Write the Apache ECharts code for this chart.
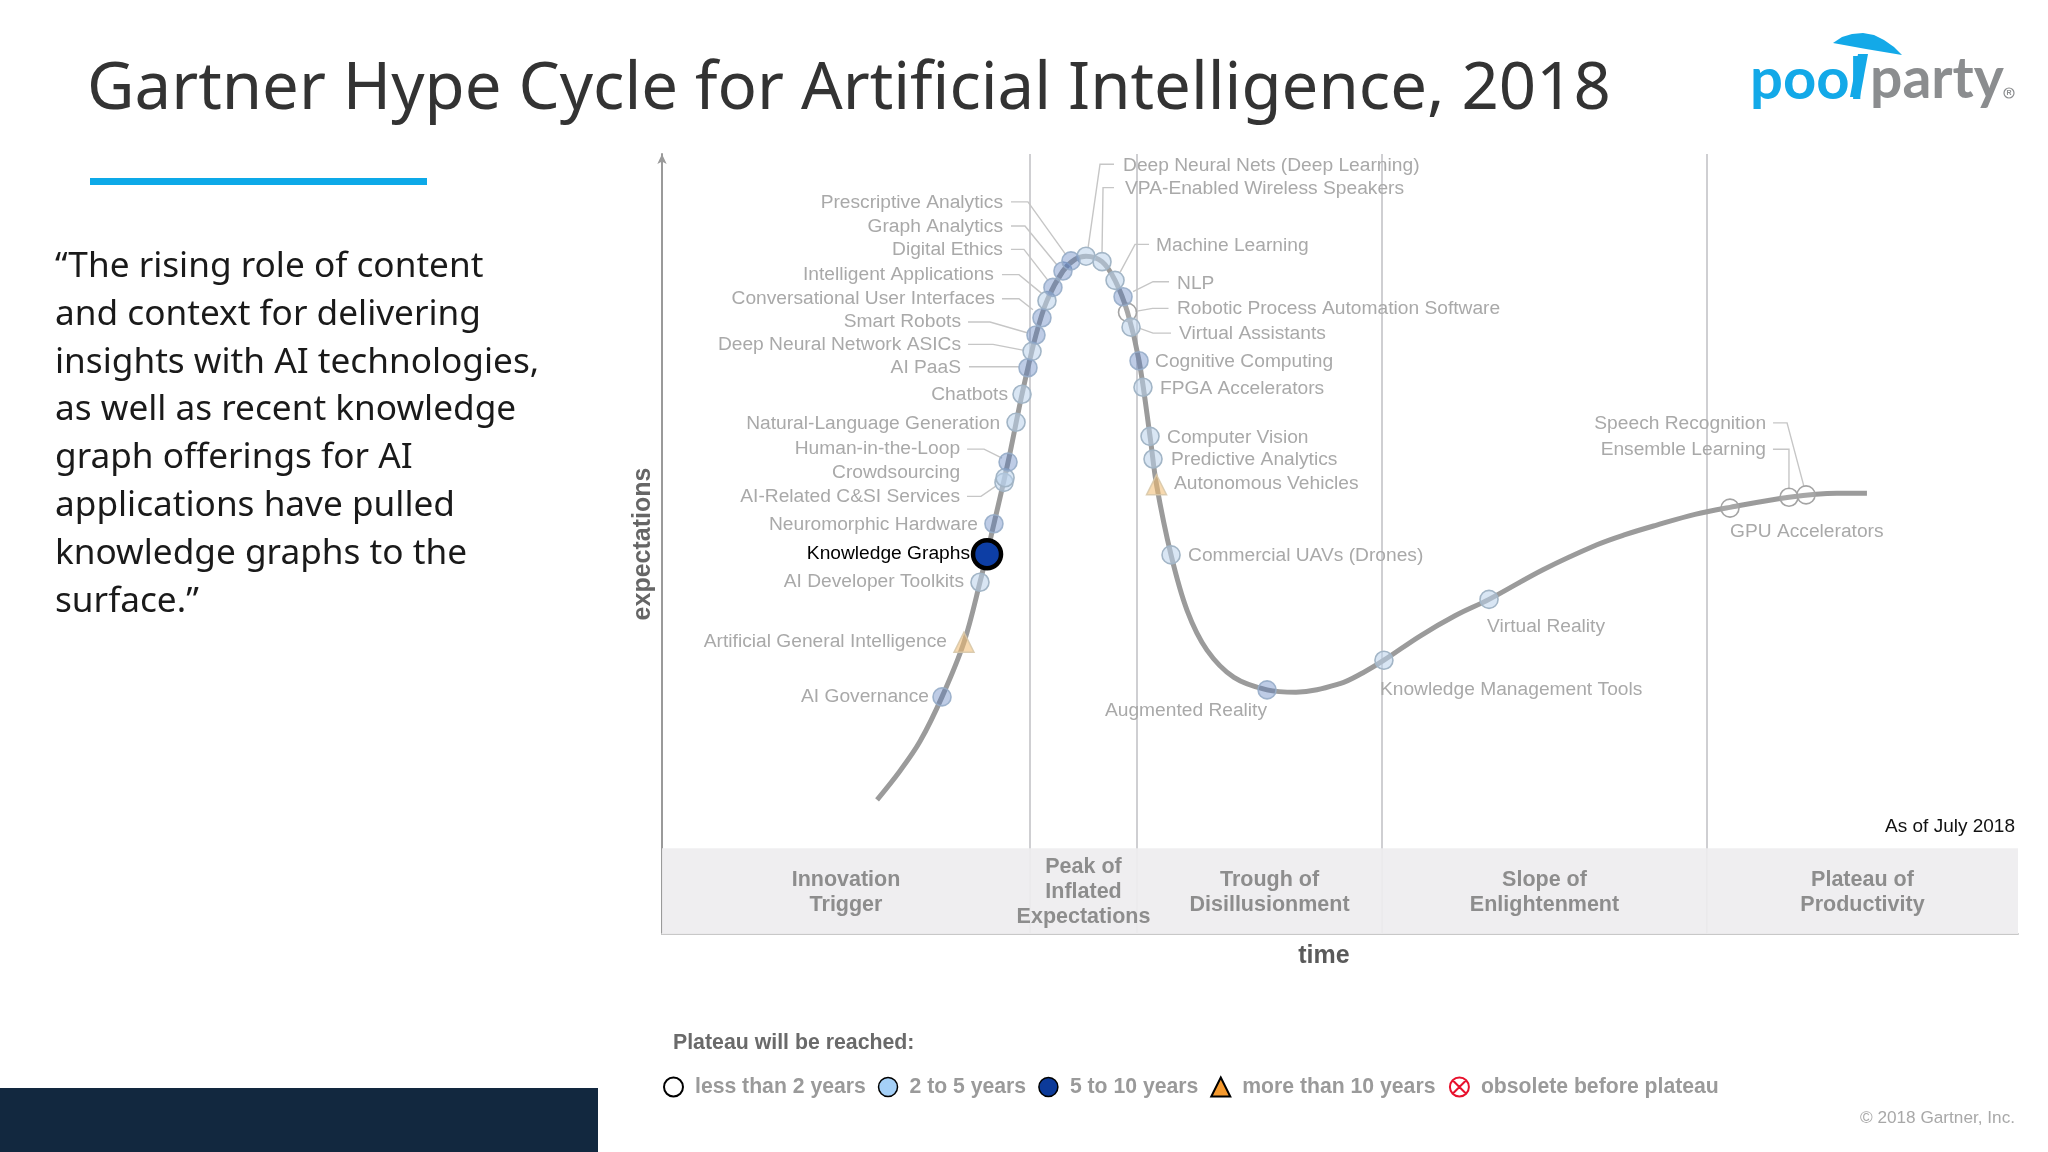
<!DOCTYPE html>
<html>
<head>
<meta charset="utf-8">
<title>Gartner Hype Cycle for Artificial Intelligence, 2018</title>
<script src="https://cdn.jsdelivr.net/npm/echarts@6/dist/echarts.min.js"></script>
<style>
    html, body { margin: 0; padding: 0; background: #fff; }
    #main { width: 2048px; height: 1152px; }
</style>
</head>
<body>
<div id="main"></div>
<script>
// hype curve, time and expectations (0-100 on both axes)
const curveTime = [15.86, 17.55, 19.03, 20.65, 22.27, 23.45, 24.48, 25.52, 26.55, 27.58, 28.39, 29.57, 30.46, 31.27, 32.45, 33.41, 34.33, 35.18, 35.99, 36.47, 37.54, 38.72, 40.19, 42.18, 44.62, 46.76, 50.0, 51.7, 53.24, 55.9, 58.48, 60.99, 64.97, 68.95, 71.02, 73.3, 76.18, 78.76, 83.11, 86.65, 88.86];
const curveExp = [17.2, 20.9, 24.7, 30.4, 37.4, 45.1, 52.6, 60.5, 69.2, 76.8, 81.2, 85.0, 86.5, 86.9, 86.2, 83.8, 79.7, 73.5, 63.8, 57.6, 48.6, 41.5, 36.4, 32.9, 31.3, 31.0, 32.1, 33.5, 35.1, 38.2, 40.8, 42.9, 46.7, 49.9, 51.2, 52.4, 53.8, 54.7, 56.0, 56.5, 56.5];

const techNames = ["AI Governance", "Artificial General Intelligence", "AI Developer Toolkits", "Knowledge Graphs", "Neuromorphic Hardware", "AI-Related C&SI Services", "Crowdsourcing", "Human-in-the-Loop", "Natural-Language Generation", "Chatbots", "AI PaaS", "Deep Neural Network ASICs", "Smart Robots", "Conversational User Interfaces", "Intelligent Applications", "Digital Ethics", "Graph Analytics", "Prescriptive Analytics", "Deep Neural Nets (Deep Learning)", "VPA-Enabled Wireless Speakers", "Machine Learning", "NLP", "Robotic Process Automation Software", "Virtual Assistants", "Cognitive Computing", "FPGA Accelerators", "Computer Vision", "Predictive Analytics", "Autonomous Vehicles", "Commercial UAVs (Drones)", "Augmented Reality", "Knowledge Management Tools", "Virtual Reality", "GPU Accelerators", "Ensemble Learning", "Speech Recognition"];
const techTime = [20.65, 22.27, 23.45, 23.97, 24.48, 25.22, 25.3, 25.52, 26.11, 26.55, 26.99, 27.29, 27.58, 28.02, 28.39, 28.83, 29.57, 30.16, 31.27, 32.45, 33.41, 34.0, 34.33, 34.59, 35.18, 35.47, 35.99, 36.21, 36.47, 37.54, 44.62, 53.24, 60.99, 78.76, 83.11, 84.37];
const techExp = [30.4, 37.4, 45.1, 48.7, 52.6, 57.9, 58.5, 60.5, 65.6, 69.2, 72.6, 74.7, 76.8, 79.0, 81.2, 82.9, 85.0, 86.3, 86.9, 86.2, 83.8, 81.7, 79.7, 77.8, 73.5, 70.1, 63.8, 60.9, 57.6, 48.6, 31.3, 35.1, 42.9, 54.6, 56.0, 56.3];
// index into plateauNames
const techPlateau = [2, 3, 1, 2, 2, 1, 1, 2, 1, 1, 2, 1, 2, 2, 1, 2, 2, 2, 1, 1, 1, 2, 0, 1, 2, 1, 1, 1, 3, 1, 2, 1, 1, 0, 0, 0];

const plateauNames = ["less than 2 years", "2 to 5 years", "5 to 10 years", "more than 10 years", "obsolete before plateau"];
const phaseNames = ["Innovation\nTrigger", "Peak of\nInflated\nExpectations", "Trough of\nDisillusionment", "Slope of\nEnlightenment", "Plateau of\nProductivity"];
const phaseEdges = [0, 27.14, 35.03, 53.1, 77.06, 100];
const bandTop = 11;

// label layout, pixels from the marker: [align, dx, dy, leader points]
const labelLayout = [
    ["right", -13, -1], ["right", -17, -2], ["right", -16, -2], ["right", -17, -1], ["right", -16, 0],
    ["right", -44, 13, [[-37, 14], [-23, 14], [-7, 3]]],
    ["right", -45, -6],
    ["right", -48, -14, [[-41, -13], [-24, -13], [-6, -4]]],
    ["right", -16, 0], ["right", -14, -1],
    ["right", -67, -1, [[-59, -1], [-9, -1]]],
    ["right", -71, -8, [[-64, -7], [-39, -7], [-8, -1]]],
    ["right", -75, -14, [[-68, -13], [-46, -13], [-8, -2]]],
    ["right", -47, -20, [[-40, -19], [-23, -19], [-9, -8]]],
    ["right", -53, -27, [[-45, -26], [-28, -26], [-5, -7]]],
    ["right", -50, -39, [[-42, -38], [-29, -38], [-5, -7]]],
    ["right", -60, -45, [[-52, -45], [-38, -45], [-6, -6]]],
    ["right", -68, -59, [[-60, -59], [-43, -59], [-5, -6]]],
    ["left", 37, -91, [[28, -92], [14, -92], [2, -8]]],
    ["left", 23, -74, [[12, -74], [1, -74], [0, -9]]],
    ["left", 41, -36, [[34, -36], [20, -36], [5, -8]]],
    ["left", 54, -14, [[46, -15], [30, -15], [10, -5]]],
    ["left", 49.5, -5, [[41, -4], [25, -4], [8, -1]]],
    ["left", 48, 6, [[40, 6], [22, 6], [8, 1]]],
    ["left", 16, 0], ["left", 17, 0], ["left", 17, 0], ["left", 18, 0], ["left", 17.5, -2], ["left", 17, 0],
    ["right", 0, 20], ["left", -4, 28], ["left", -2, 26], ["left", 0, 23],
    ["right", -23, -48, [[-16, -48], [0, -48], [0, -8]]],
    ["right", -40, -72, [[-33, -72], [-19, -72], [-2, -8]]]
];

const plateauStyles = [
    { opacity: 1, color: "rgba(255,255,255,0.12)", borderColor: "#a4a4a4", borderWidth: 1.6 },
    { opacity: 1, color: "rgba(185,210,235,0.55)", borderColor: "#a2b5c6", borderWidth: 1.6 },
    { opacity: 1, color: "rgba(85,120,190,0.38)", borderColor: "rgba(150,172,200,0.9)", borderWidth: 1.6 },
    { opacity: 1, color: "rgba(240,185,110,0.55)", borderColor: "rgba(215,200,170,0.9)", borderWidth: 1.5 }
];
const legendStyles = [
    { color: "#fff", borderColor: "#000", borderWidth: 2 },
    { color: "#a5d0f7", borderColor: "#000", borderWidth: 1.5 },
    { color: "#0c3a99", borderColor: "#000", borderWidth: 1.5 },
    { color: "#f59a2f", borderColor: "#000", borderWidth: 2 },
    { color: "none", borderColor: "#e8112d", borderWidth: 2 }
];
const crossIcon = "path://M10 1A9 9 0 1 1 9.99 1ZM3.6 3.6L16.4 16.4M16.4 3.6L3.6 16.4";

const SANS = '"Liberation Sans", Arial, sans-serif';
const SLIDE = '"Noto Sans", sans-serif';

const chart = echarts.init(document.getElementById("main"), null, { renderer: "canvas" });

const techSeries = plateauNames.map((name, p) => {
    let data = [];
    techNames.forEach((n, i) => {
        if (techPlateau[i] !== p) return;
        if (n === "Knowledge Graphs") {
            data.push({
                value: [techTime[i], techExp[i]],
                symbolSize: 28,
                itemStyle: { opacity: 1, color: "#0d3ea5", borderColor: "#000", borderWidth: 4.5 }
            });
        } else {
            data.push([techTime[i], techExp[i]]);
        }
    });
    return {
        name: name,
        type: "scatter",
        z: 5,
        silent: true,
        symbol: p === 3 ? "triangle" : "circle",
        symbolSize: p === 3 ? 20 : 18,
        itemStyle: plateauStyles[p] || plateauStyles[0],
        data: data
    };
});

const renderTechLabel = (params, api) => {
    const i = params.dataIndex;
    const pos = api.coord([api.value(0), api.value(1)]);
    const lay = labelLayout[i];
    const children = [];
    if (lay[3]) {
        children.push({
            type: "polyline",
            shape: { points: lay[3].map(o => [pos[0] + o[0], pos[1] + o[1]]) },
            style: { stroke: "#c6c6c6", lineWidth: 1.4, fill: null }
        });
    }
    children.push({
        type: "text",
        style: {
            x: pos[0] + lay[1],
            y: pos[1] + lay[2] + 1,
            text: techNames[i],
            align: lay[0],
            verticalAlign: "middle",
            fill: techNames[i] === "Knowledge Graphs" ? "#000" : "#a9a9a9",
            font: '19.2px ' + SANS
        }
    });
    return { type: "group", children: children };
};

const option = {
    animation: false,
    backgroundColor: "#fff",
    title: {
        text: "Gartner Hype Cycle for Artificial Intelligence, 2018",
        left: 82,
        top: 53,
        textStyle: { fontFamily: SLIDE, fontSize: 65.3, fontWeight: 400, color: "#333" }
    },
    grid: { left: 662, top: 154, width: 1356, height: 780 },
    xAxis: {
        type: "value", min: 0, max: 100,
        name: "time", nameLocation: "middle", nameGap: 10,
        nameTextStyle: { fontFamily: SANS, fontSize: 25, fontWeight: "bold", color: "#5a5a5a", padding: [0, 32, 0, 0] },
        axisLine: { lineStyle: { color: "#c8c8c8", width: 2 } },
        axisTick: { show: false }, axisLabel: { show: false }, splitLine: { show: false }
    },
    yAxis: {
        type: "value", min: 0, max: 100,
        name: "expectations", nameLocation: "middle", nameGap: 6,
        nameTextStyle: { fontFamily: SANS, fontSize: 25, fontWeight: "bold", color: "#666" },
        axisLine: { show: true, symbol: ["none", "arrow"], symbolSize: [7, 10], lineStyle: { color: "#9a9a9a", width: 2 } },
        axisTick: { show: false }, axisLabel: { show: false }, splitLine: { show: false }
    },
    legend: {
        left: 658,
        top: 1070,
        orient: "horizontal",
        itemWidth: 19,
        itemHeight: 19,
        itemGap: 12,
        selectedMode: false,
        textStyle: { fontFamily: SANS, fontSize: 21.2, fontWeight: "bold", color: "#9a9a9a", padding: [0, 0, 0, 7] },
        data: plateauNames.map((name, p) => ({
            name: name,
            icon: p === 3 ? "triangle" : p === 4 ? crossIcon : "circle",
            itemStyle: legendStyles[p]
        }))
    },
    series: [
        {
            name: "phases",
            type: "line",
            z: 1,
            silent: true,
            symbol: "none",
            data: [],
            markLine: {
                silent: true,
                z: 1,
                symbol: "none",
                label: { show: false },
                lineStyle: { color: "#cfcfd2", width: 2, type: "solid" },
                data: phaseEdges.slice(1, 5).map(v => ({ xAxis: v }))
            },
            markArea: {
                silent: true,
                z: 2,
                itemStyle: { color: "rgba(238,237,239,0.93)" },
                label: {
                    position: "inside",
                    fontFamily: SANS,
                    fontSize: 21.5,
                    fontWeight: "bold",
                    lineHeight: 25,
                    color: "#8d8d8d"
                },
                data: phaseNames.map((name, i) => [
                    { name: name, xAxis: phaseEdges[i], yAxis: 0, label: { offset: i === 2 ? [10, 1] : [0, 1] } },
                    { xAxis: phaseEdges[i + 1], yAxis: bandTop }
                ])
            }
        },
        {
            name: "hype curve",
            type: "line",
            z: 3,
            silent: true,
            smooth: 0.35,
            symbol: "none",
            lineStyle: { color: "#9b9b9b", width: 5 },
            data: curveTime.map((t, i) => [t, curveExp[i]])
        },
        {
            name: "labels",
            type: "custom",
            z: 4,
            silent: true,
            clip: false,
            renderItem: renderTechLabel,
            encode: { x: 0, y: 1 },
            data: techNames.map((n, i) => [techTime[i], techExp[i]])
        }
    ].concat(techSeries),
    graphic: [
        // blue rule under the title
        { type: "rect", shape: { x: 90, y: 178, width: 337, height: 7 }, style: { fill: "#0da9e8" } },
        // dark footer block
        { type: "rect", shape: { x: 0, y: 1088, width: 598, height: 64 }, style: { fill: "#12283f" } },
        {
            type: "text", x: 55, y: 243,
            style: {
                text: "“The rising role of content\nand context for delivering\ninsights with AI technologies,\nas well as recent knowledge\ngraph offerings for AI\napplications have pulled\nknowledge graphs to the\nsurface.”",
                font: '35.2px ' + SLIDE, lineHeight: 47.8, fill: "#1a1a1a"
            }
        },
        { type: "text", x: 2015, y: 827, style: { text: "As of July 2018", align: "right", verticalAlign: "middle", font: '19px ' + SANS, fill: "#111" } },
        { type: "text", x: 673, y: 1043, style: { text: "Plateau will be reached:", verticalAlign: "middle", font: 'bold 21.3px ' + SANS, fill: "#6a6a6a" } },
        { type: "text", x: 2015, y: 1118, style: { text: "© 2018 Gartner, Inc.", align: "right", verticalAlign: "middle", font: '17.2px ' + SANS, fill: "#a8a8a8" } },
        // logo
        { type: "text", x: 1750, y: 80, style: { text: "pool", verticalAlign: "middle", font: 'bold 58px Lato, ' + SANS, fill: "#13a9e8" } },
        { type: "text", x: 1870, y: 80, style: { text: "party", verticalAlign: "middle", font: 'bold 57px Lato, ' + SANS, fill: "#8b8d8f" } },
        { type: "polygon", shape: { points: [[1858, 54], [1868, 54], [1860, 97], [1850, 97]] }, style: { fill: "#13a9e8" } },
        {
            type: "polygon",
            shape: { points: [[1833, 43], [1842, 37], [1852, 34], [1863, 33], [1874, 35], [1884, 40], [1894, 47], [1902, 55], [1866, 49]] },
            style: { fill: "#13a9e8" }
        },
        { type: "circle", shape: { cx: 2009, cy: 93, r: 5 }, style: { fill: "none", stroke: "#8b8d8f", lineWidth: 1.2 } },
        { type: "text", x: 2009, y: 93, style: { text: "R", align: "center", verticalAlign: "middle", font: 'bold 7px ' + SANS, fill: "#8b8d8f" } }
    ]
};

chart.setOption(option);
</script>
</body>
</html>
